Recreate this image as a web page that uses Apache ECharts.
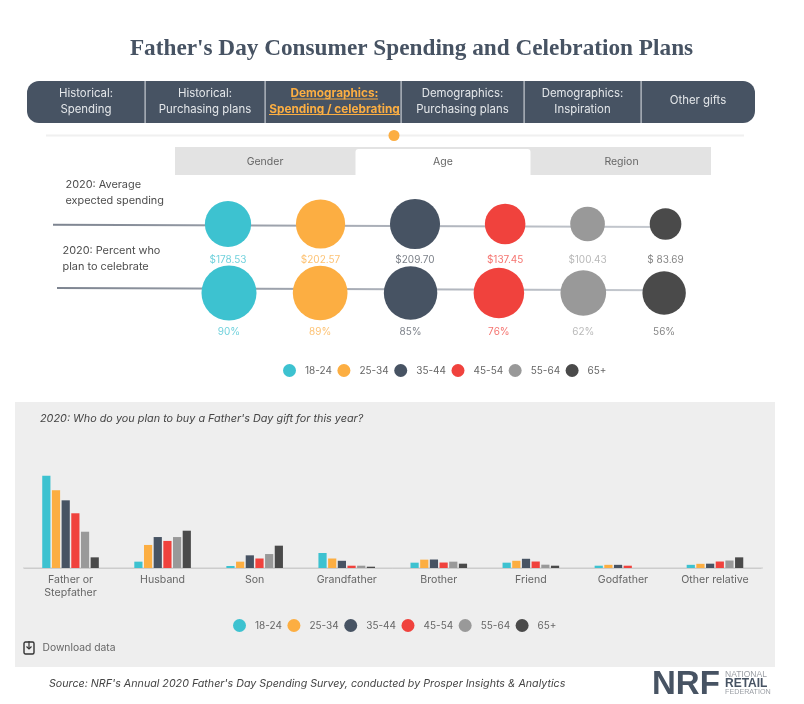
<!DOCTYPE html>
<html>
<head>
<meta charset="utf-8">
<title>Father's Day Consumer Spending and Celebration Plans</title>
<script src="https://cdn.jsdelivr.net/npm/echarts@6/dist/echarts.min.js"></script>
<style>
html,body{margin:0;padding:0;background:#fff}
#main{width:804px;height:704px}
</style>
</head>
<body>
<div id="main"></div>
<script>
var ageGroups = ['18-24','25-34','35-44','45-54','55-64','65+'];
var spending = [178.53,202.57,209.70,137.45,100.43,83.69];
var spendingLabels = ['$178.53','$202.57','$209.70','$137.45','$100.43','$ 83.69'];
var celebrating = [90,89,85,76,62,56];
var celebratingLabels = ['90%','89%','85%','76%','62%','56%'];

var recipients = ['Father or\nStepfather','Husband','Son','Grandfather','Brother','Friend','Godfather','Other relative'];
var age1824 = [64,4.4,1.4,10.4,3.7,3.7,1.6,2.2];
var age2534 = [54,16,4.4,6.6,5.8,5,2.2,2.9];
var age3544 = [47,21.5,8.8,5,5.9,6.4,2.2,3];
var age4554 = [38,18.8,6.6,1.6,3.8,4.5,1.6,4.5];
var age5564 = [25.2,21.5,9.7,1.6,4.4,2.3,0,5.2];
var age65 = [7.4,25.9,15.5,0.9,3,1.6,0,7.4];
var ageSeries = [age1824,age2534,age3544,age4554,age5564,age65];

var tabs = ['Historical:\nSpending','Historical:\nPurchasing plans','Demographics:\nSpending / celebrating','Demographics:\nPurchasing plans','Demographics:\nInspiration','Other gifts'];
var subTabs = ['Gender','Age','Region'];

var colors = ['#3dc2d0','#fcae42','#475363','#f0423d','#999999','#4a4a4a'];
var labelColors = ['#4cc6d3','#fcb350','#5b626c','#f2504b','#a8a8a8','#666666'];
var ink = '#666';
var font = 'Inter';

var chart = echarts.init(document.getElementById('main'));
window.addEventListener('resize',()=>{
    chart.resize();
})

// bubble area grows with the value, neighbours keep a constant gap between edges
function bubbleSize(v,k){
    return 2*k*Math.sqrt(v);
}
function bubbleX(values,k,start,gap){
    var xs = [start];
    for(var i=1;i<values.length;i++){
        xs.push(xs[i-1]+bubbleSize(values[i-1],k)/2+bubbleSize(values[i],k)/2+gap);
    }
    return xs;
}
var spendingX = bubbleX(spending,1.73,228,44.8);
var celebratingX = bubbleX(celebrating,2.9,229,36.3);

function bubbleRow(name,values,labels,xs,k,idx,labelY,lineX,lineY){
    return [
        {
            name:name+' line',
            type:'line',
            xAxisIndex:idx,
            yAxisIndex:idx,
            symbol:'none',
            silent:true,
            z:1,
            lineStyle:{
                width:2,
                color:new echarts.graphic.LinearGradient(0,0,1,0,[
                    {offset:0,color:'#7d8490'},
                    {offset:0.5,color:'#a9aeb7'},
                    {offset:1,color:'#c6cad0'}
                ])
            },
            data:[[lineX,lineY],[xs[xs.length-1],lineY+2.2]]
        },
        {
            name:name,
            type:'scatter',
            xAxisIndex:idx,
            yAxisIndex:idx,
            z:3,
            symbolSize:function(d){return bubbleSize(d[2],k);},
            itemStyle:{
                opacity:1,
                color:function(p){return colors[p.dataIndex];}
            },
            data:xs.map(function(x,i){return [x,0,values[i]];})
        },
        {
            name:name+' labels',
            type:'scatter',
            xAxisIndex:idx,
            yAxisIndex:idx,
            symbolSize:0,
            silent:true,
            z:3,
            label:{
                show:true,
                position:'inside',
                fontFamily:font,
                fontSize:10,
                formatter:function(p){return labels[p.dataIndex];},
                color:'#666'
            },
            data:xs.map(function(x,i){
                return {value:[x,labelY],label:{color:labelColors[i]}};
            })
        }
    ];
}

var series = [].concat(
    bubbleRow('Average expected spending',spending,spendingLabels,spendingX,1.73,0,35.5,53,0.7),
    bubbleRow('Percent who plan to celebrate',celebrating,celebratingLabels,celebratingX,2.9,1,39,57,-5)
);

ageGroups.forEach(function(age,i){
    series.push({
        name:age,
        type:'bar',
        xAxisIndex:2,
        yAxisIndex:2,
        barWidth:8.2,
        barGap:'18%',
        itemStyle:{color:colors[i]},
        data:ageSeries[i]
    });
});

function text(x,y,str,size,color,extra){
    return {
        type:'text',
        x:x,
        y:y,
        z:1,
        silent:true,
        style:Object.assign({
            text:str,
            fontSize:size,
            fontFamily:font,
            fill:color,
            align:'left',
            verticalAlign:'middle'
        },extra||{})
    };
}
function box(x,y,w,h,fill,r,z){
    return {type:'rect',x:x,y:y,z:z||0,silent:true,shape:{x:0,y:0,width:w,height:h,r:r||0},style:{fill:fill}};
}

var tabEdges = [27,145,265,401,524,641,755];
var graphics = [
    text(411.5,49,"Father's Day Consumer Spending and Celebration Plans",23.25,'#475363',{
        fontFamily:'Liberation Serif',fontWeight:'bold',align:'center'}),
    box(27,81,728,42,'#475363',[12,12,12,12])
];
tabs.forEach(function(t,i){
    var cx = (tabEdges[i]+tabEdges[i+1])/2;
    if(i==2) cx = 334.5;
    var lines = t.split('\n');
    var active = i==2;
    var st = {align:'center',fontWeight:active?'bold':'normal'};
    var col = active?'#fcae42':'#e4e7ea';
    var size = active?11.8:11.4;
    if(lines.length==2){
        graphics.push(text(cx,93.5,lines[0],size,col,st));
        graphics.push(text(cx,109.5,lines[1],size,col,st));
    }else{
        graphics.push(text(cx,101,lines[0],size,col,st));
    }
    if(i>0){
        graphics.push(box(tabEdges[i]-0.5,81,1.2,42,'#c8ccd2',0,1));
    }
});
graphics.push(
    box(292,98.5,86,1,'#fcae42',0,1),
    box(269,114,131,1,'#fcae42',0,1),
    box(46,134.5,698,2,'#f0f0f0'),
    {type:'circle',x:394,y:135.5,z:1,silent:true,shape:{cx:0,cy:0,r:5.5},style:{fill:'#fcae42'}},
    box(175,147,536,28,'#e3e3e3'),
    box(355.5,149,175,26,'#fff',[3,3,0,0],1),
    text(265,161.5,subTabs[0],10.5,'#666',{align:'center'}),
    text(443,161.5,subTabs[1],10.5,'#666',{align:'center'}),
    text(621.5,161.5,subTabs[2],10.5,'#666',{align:'center'}),
    text(65.5,184.5,'2020: Average',10.9,'#4d4d4d'),
    text(65.5,200.5,'expected spending',10.9,'#4d4d4d'),
    text(62.5,250.5,'2020: Percent who',10.9,'#4d4d4d'),
    text(62.5,266.5,'plan to celebrate',10.9,'#4d4d4d'),
    box(15,402,760,265,'#eeeeee'),
    box(23,567.6,740,1,'#cccccc',0,1),
    text(40,419,"2020: Who do you plan to buy a Father's Day gift for this year?",10.85,'#444',{fontStyle:'italic'}),
    {type:'rect',x:24,y:642,z:1,silent:true,shape:{x:0,y:0,width:10,height:12,r:1.5},style:{fill:'none',stroke:'#333',lineWidth:1.4}},
    {type:'polyline',x:29,y:642,z:1,silent:true,shape:{points:[[0,-1],[0,7]]},style:{fill:'none',stroke:'#333',lineWidth:1.2}},
    {type:'polyline',x:29,y:642,z:1,silent:true,shape:{points:[[-2.5,4.5],[0,7],[2.5,4.5]]},style:{fill:'none',stroke:'#333',lineWidth:1.2}},
    text(42.5,647.5,'Download data',10.3,ink),
    text(49,683.5,"Source: NRF's Annual 2020 Father's Day Spending Survey, conducted by Prosper Insights & Analytics",10.7,'#444',{fontStyle:'italic'}),
    text(652,685,'NRF',33,'#475363',{fontFamily:'Liberation Sans',fontWeight:'bold'}),
    text(725,674.5,'NATIONAL',8.5,'#9a9ea4',{fontFamily:'Liberation Sans'}),
    text(725,683.5,'RETAIL',12,'#475363',{fontFamily:'Liberation Sans',fontWeight:'bold'}),
    text(725,692.5,'FEDERATION',7.2,'#9a9ea4',{fontFamily:'Liberation Sans'})
);

function hiddenX(idx){
    return {type:'value',gridIndex:idx,min:0,max:804,show:false};
}
function hiddenY(idx){
    return {type:'value',gridIndex:idx,min:-60,max:60,inverse:true,show:false};
}

var option = {
    animation:false,
    backgroundColor:'#fff',
    graphic:graphics,
    grid:[
        {left:0,right:0,top:164,height:120},
        {left:0,right:0,top:233,height:120},
        {left:24.5,width:736.5,top:467.2,height:100.8}
    ],
    xAxis:[
        hiddenX(0),
        hiddenX(1),
        {
            type:'category',
            gridIndex:2,
            data:recipients,
            axisTick:{show:false},
            axisLine:{lineStyle:{color:'#cccccc',width:1}},
            axisLabel:{
                color:ink,
                fontFamily:font,
                fontSize:10.6,
                margin:5,
                lineHeight:13,
                interval:0
            }
        }
    ],
    yAxis:[
        hiddenY(0),
        hiddenY(1),
        {type:'value',gridIndex:2,min:0,max:70,show:false}
    ],
    legend:[
        {
            data:ageGroups,
            left:278,
            top:359,
            icon:'circle',
            itemWidth:13,
            itemHeight:13,
            itemGap:5.5,
            selectedMode:false,
            textStyle:{color:ink,fontFamily:font,fontSize:10,padding:[0,0,0,4]}
        },
        {
            data:ageGroups,
            left:228,
            top:614,
            icon:'circle',
            itemWidth:13,
            itemHeight:13,
            itemGap:5.5,
            selectedMode:false,
            textStyle:{color:ink,fontFamily:font,fontSize:10,padding:[0,0,0,4]}
        }
    ],
    series:series
};

chart.setOption(option);
</script>
</body>
</html>
